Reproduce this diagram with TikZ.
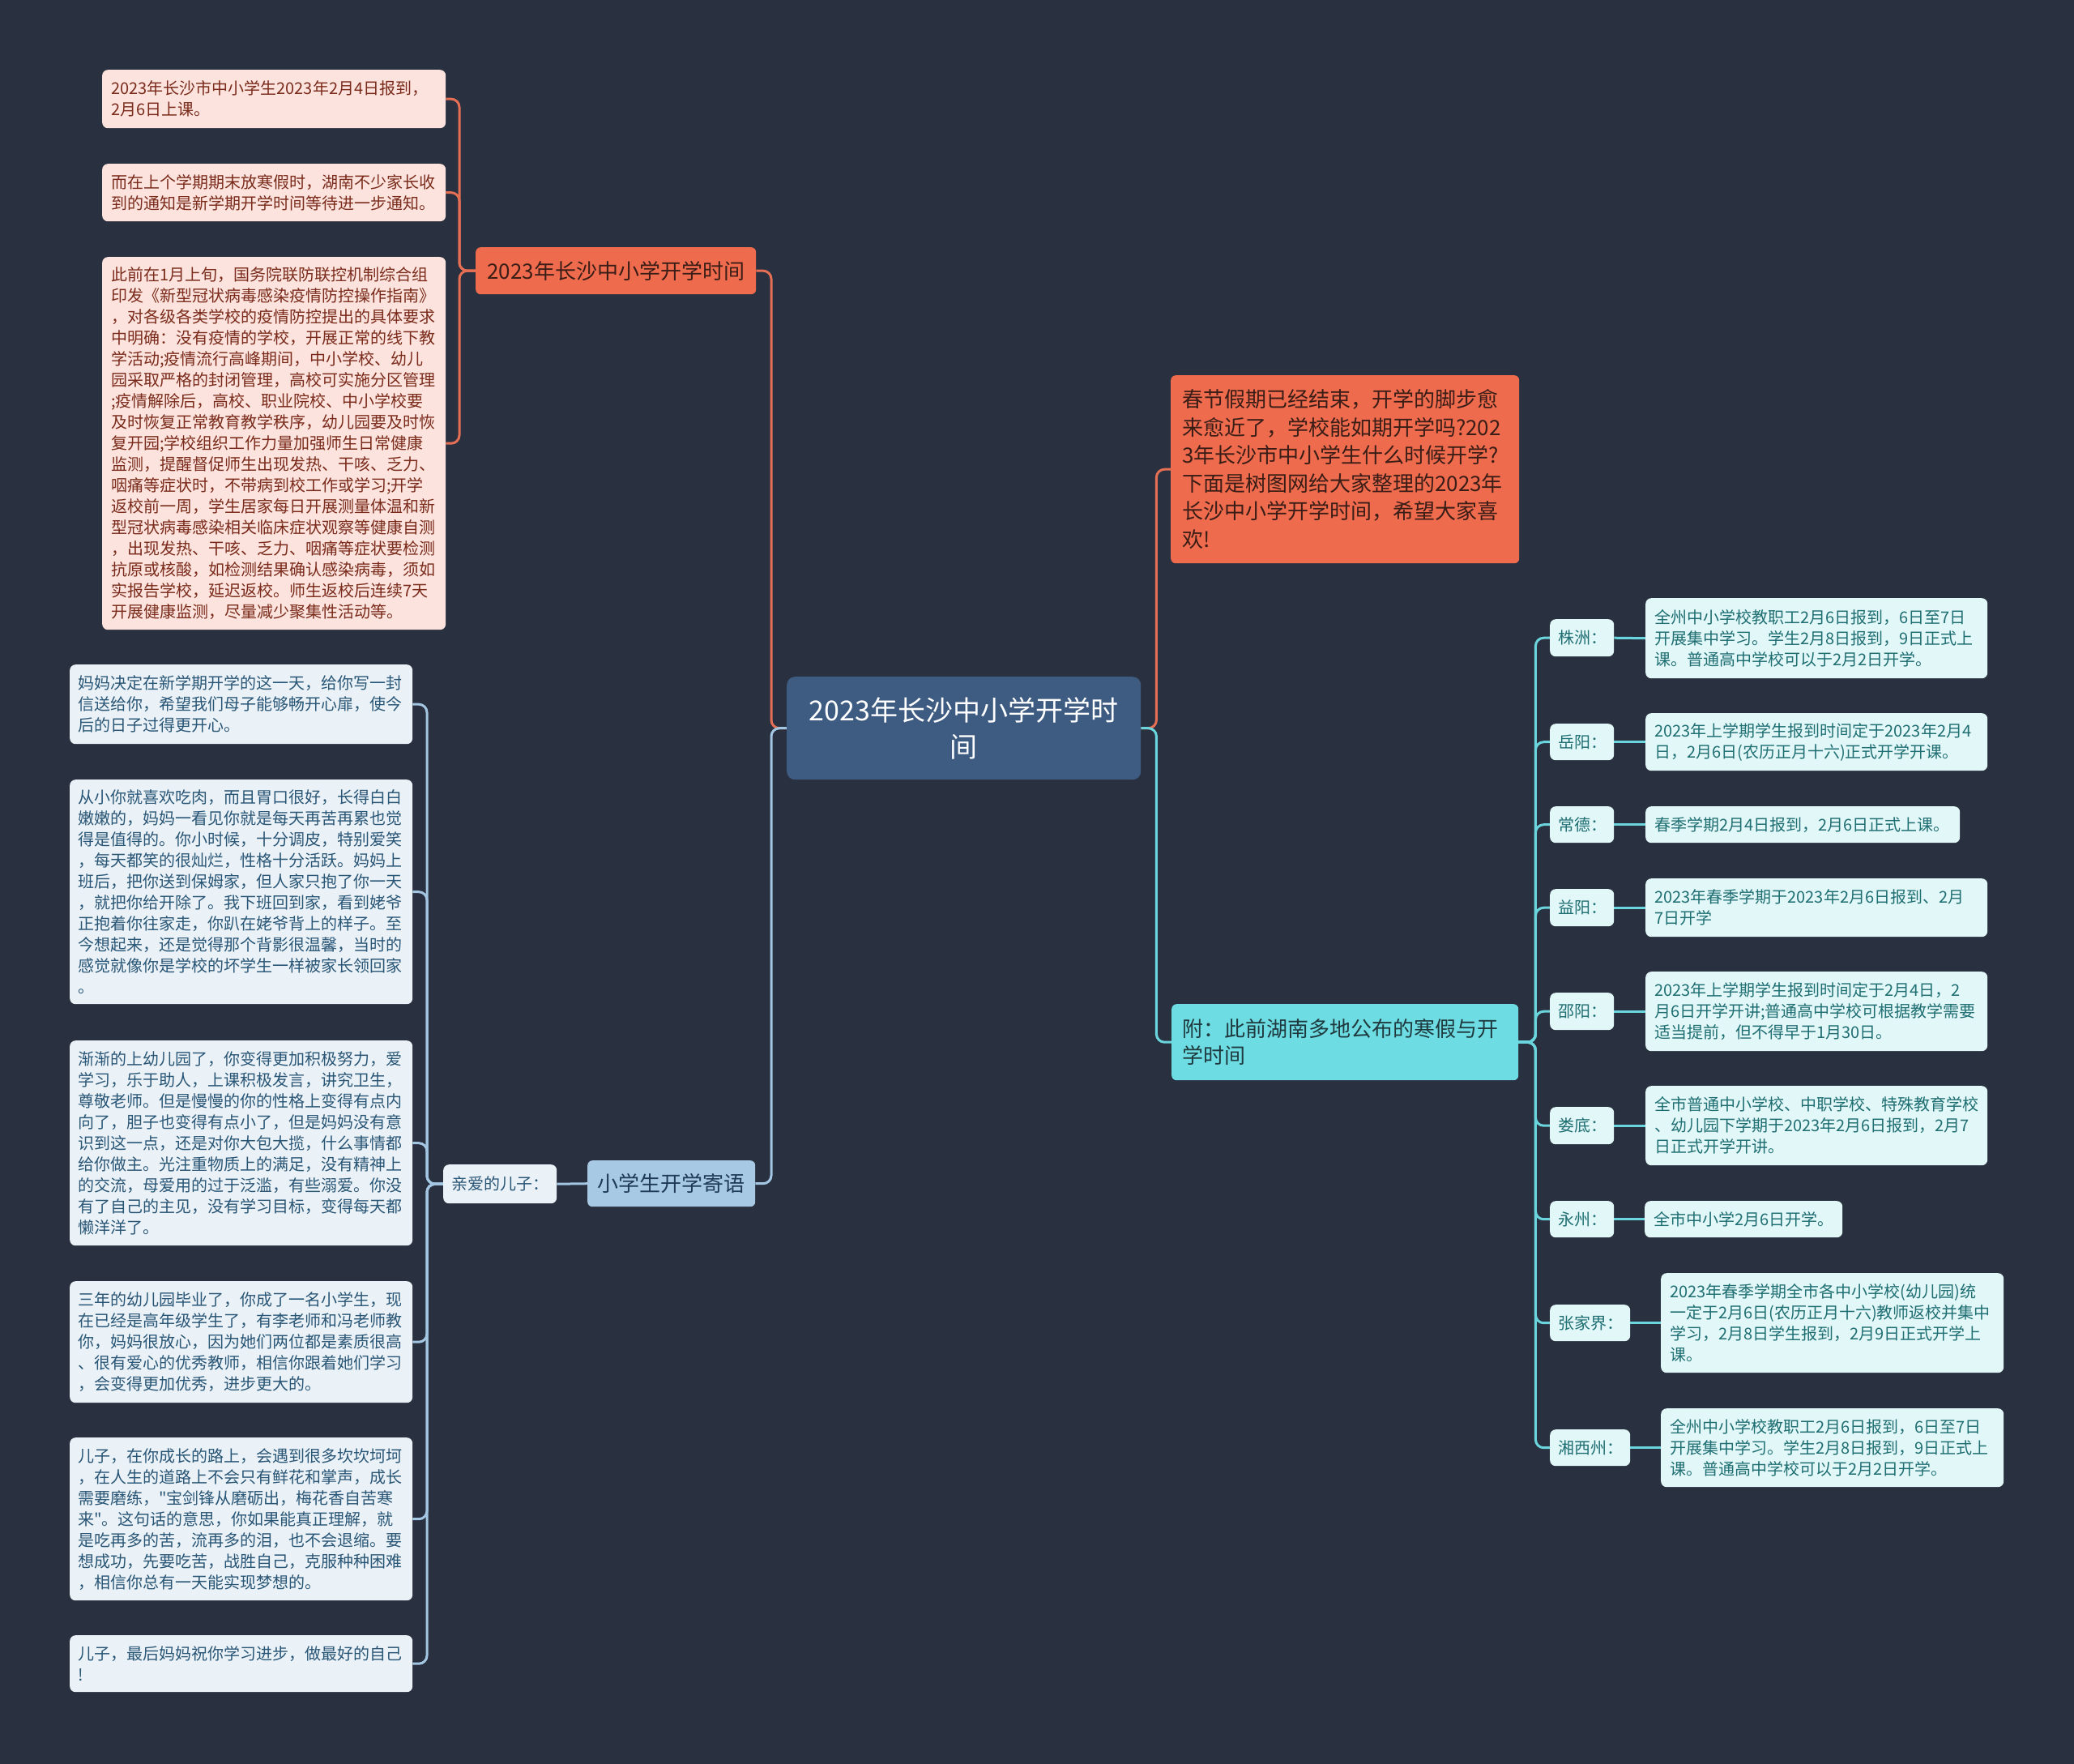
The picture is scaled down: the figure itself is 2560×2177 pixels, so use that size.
\documentclass[tikz,border=0pt]{standalone}
\usepackage{fontspec}
\newfontfamily\cjk{Noto Sans CJK SC}
\usetikzlibrary{calc}
\definecolor{bg}{HTML}{29303F}
\definecolor{rootf}{HTML}{3E5B82}
\definecolor{orf}{HTML}{EE6B4D}
\definecolor{ortxt}{HTML}{3A1D16}
\definecolor{olf}{HTML}{FCE3DD}
\definecolor{oltxt}{HTML}{7A2B1B}
\definecolor{orl}{HTML}{E56F55}
\definecolor{bbf}{HTML}{A8C9E4}
\definecolor{bbtxt}{HTML}{1E3A56}
\definecolor{blf}{HTML}{EAF2F8}
\definecolor{bltxt}{HTML}{2A5676}
\definecolor{bll}{HTML}{A3C6E2}
\definecolor{cyf}{HTML}{6EDDE3}
\definecolor{cytxt}{HTML}{1F3A3F}
\definecolor{ctf}{HTML}{E2F7F8}
\definecolor{cttxt}{HTML}{1E6E72}
\definecolor{cyl}{HTML}{6AD5DD}
\pgfdeclarelayer{back}
\pgfdeclarelayer{conn}
\pgfsetlayers{back,conn,main}
\newcommand\bx[8]{%
  \pgfmathsetmacro\bxw{#4-#2}%
  \pgfmathsetmacro\bxh{#5-#3}%
  \pgfmathsetmacro\bxtw{#4-#2-2*#6}%
  \node[#7, anchor=north west, inner xsep=#6pt, inner ysep=0pt,
        minimum width=\bxw pt, minimum height=\bxh pt, text width=\bxtw pt] (#1) at (#2,#3) {#8};}
\tikzset{
  small/.style={font={\cjk\fontsize{20}{26}\selectfont}, align=left, rounded corners=7pt},
  rootn/.style={fill=rootf, text=white, font={\cjk\fontsize{34}{45}\selectfont}, align=center, rounded corners=10pt},
  obr/.style={fill=orf, text=ortxt, font={\cjk\fontsize{26}{34}\selectfont}, align=center, rounded corners=6pt},
  intro/.style={fill=orf, text=ortxt, font={\cjk\fontsize{26}{34.5}\selectfont}, align=left, rounded corners=6pt},
  oleaf/.style={small, fill=olf, text=oltxt},
  bbr/.style={fill=bbf, text=bbtxt, font={\cjk\fontsize{26}{34}\selectfont}, align=center, rounded corners=6pt},
  bleaf/.style={small, fill=blf, text=bltxt},
  fun/.style={fill=cyf, text=cytxt, font={\cjk\fontsize{26}{33}\selectfont}, align=left, rounded corners=6pt},
  city/.style={small, fill=ctf, text=cttxt},
  conn/.style={line width=3pt, rounded corners=10pt},
  oc/.style={conn, draw=orl},
  bc/.style={conn, draw=bll},
  cc/.style={conn, draw=cyl},
}
\begin{document}
\begin{tikzpicture}[x=1pt, y=-1pt]
\begin{pgfonlayer}{back}
\fill[bg] (0,0) rectangle (2560,2177);
\end{pgfonlayer}
\useasboundingbox (0,0) rectangle (2560,2177);

% root
\bx{root}{971}{835}{1408}{962}{10}{rootn}{2023年长沙中小学开学时\\间}

% orange branch
\bx{obr}{587}{305}{933}{363}{8}{obr}{2023年长沙中小学开学时间}
\bx{ol1}{126}{86}{550}{158}{11}{oleaf}{2023年长沙市中小学生2023年2月4日报到，\\2月6日上课。}
\bx{ol2}{126}{202}{550}{273}{11}{oleaf}{而在上个学期期末放寒假时，湖南不少家长收\\到的通知是新学期开学时间等待进一步通知。}
\bx{ol3}{126}{317}{550}{777}{11}{oleaf}{此前在1月上旬，国务院联防联控机制综合组\\
印发《新型冠状病毒感染疫情防控操作指南》\\
，对各级各类学校的疫情防控提出的具体要求\\
中明确：没有疫情的学校，开展正常的线下教\\
学活动;疫情流行高峰期间，中小学校、幼儿\\
园采取严格的封闭管理，高校可实施分区管理\\
;疫情解除后，高校、职业院校、中小学校要\\
及时恢复正常教育教学秩序，幼儿园要及时恢\\
复开园;学校组织工作力量加强师生日常健康\\
监测，提醒督促师生出现发热、干咳、乏力、\\
咽痛等症状时，不带病到校工作或学习;开学\\
返校前一周，学生居家每日开展测量体温和新\\
型冠状病毒感染相关临床症状观察等健康自测\\
，出现发热、干咳、乏力、咽痛等症状要检测\\
抗原或核酸，如检测结果确认感染病毒，须如\\
实报告学校，延迟返校。师生返校后连续7天\\
开展健康监测，尽量减少聚集性活动等。}

% blue branch
\bx{xsy}{725}{1432}{932}{1489}{8}{bbr}{小学生开学寄语}
\bx{qin}{547}{1437}{687}{1485}{10}{bleaf}{亲爱的儿子：}
\bx{bA}{86}{820}{509}{918}{10}{bleaf}{妈妈决定在新学期开学的这一天，给你写一封\\
信送给你，希望我们母子能够畅开心扉，使今\\
后的日子过得更开心。}
\bx{bB}{86}{962}{509}{1239}{10}{bleaf}{从小你就喜欢吃肉，而且胃口很好，长得白白\\
嫩嫩的，妈妈一看见你就是每天再苦再累也觉\\
得是值得的。你小时候，十分调皮，特别爱笑\\
，每天都笑的很灿烂，性格十分活跃。妈妈上\\
班后，把你送到保姆家，但人家只抱了你一天\\
，就把你给开除了。我下班回到家，看到姥爷\\
正抱着你往家走，你趴在姥爷背上的样子。至\\
今想起来，还是觉得那个背影很温馨，当时的\\
感觉就像你是学校的坏学生一样被家长领回家\\
。}
\bx{bC}{86}{1284}{509}{1537}{10}{bleaf}{渐渐的上幼儿园了，你变得更加积极努力，爱\\
学习，乐于助人，上课积极发言，讲究卫生，\\
尊敬老师。但是慢慢的你的性格上变得有点内\\
向了，胆子也变得有点小了，但是妈妈没有意\\
识到这一点，还是对你大包大揽，什么事情都\\
给你做主。光注重物质上的满足，没有精神上\\
的交流，母爱用的过于泛滥，有些溺爱。你没\\
有了自己的主见，没有学习目标，变得每天都\\
懒洋洋了。}
\bx{bD}{86}{1581}{509}{1731}{10}{bleaf}{三年的幼儿园毕业了，你成了一名小学生，现\\
在已经是高年级学生了，有李老师和冯老师教\\
你，妈妈很放心，因为她们两位都是素质很高\\
、很有爱心的优秀教师，相信你跟着她们学习\\
，会变得更加优秀，进步更大的。}
\bx{bE}{86}{1774}{509}{1975}{10}{bleaf}{儿子，在你成长的路上，会遇到很多坎坎坷坷\\
，在人生的道路上不会只有鲜花和掌声，成长\\
需要磨练，"宝剑锋从磨砺出，梅花香自苦寒\\
来"。这句话的意思，你如果能真正理解，就\\
是吃再多的苦，流再多的泪，也不会退缩。要\\
想成功，先要吃苦，战胜自己，克服种种困难\\
，相信你总有一天能实现梦想的。}
\bx{bF}{86}{2018}{509}{2088}{10}{bleaf}{儿子，最后妈妈祝你学习进步，做最好的自己\\
!}

% right side
\bx{intro}{1445}{463}{1875}{695}{14}{intro}{春节假期已经结束，开学的脚步愈\\
来愈近了，学校能如期开学吗?202\\
3年长沙市中小学生什么时候开学?\\
下面是树图网给大家整理的2023年\\
长沙中小学开学时间，希望大家喜\\
欢!}
\bx{fu}{1446}{1239}{1874}{1333}{13}{fun}{附：此前湖南多地公布的寒假与开\\学时间}

\bx{c1}{1913}{764}{1992}{810}{10}{city}{株洲：}
\bx{d1}{2031}{738}{2453}{837}{11}{city}{全州中小学校教职工2月6日报到，6日至7日\\开展集中学习。学生2月8日报到，9日正式上\\课。普通高中学校可以于2月2日开学。}
\bx{c2}{1913}{893}{1992}{938}{10}{city}{岳阳：}
\bx{d2}{2031}{880}{2453}{951}{11}{city}{2023年上学期学生报到时间定于2023年2月4\\日，2月6日(农历正月十六)正式开学开课。}
\bx{c3}{1913}{995}{1992}{1040}{10}{city}{常德：}
\bx{d3}{2031}{995}{2419}{1040}{11}{city}{春季学期2月4日报到，2月6日正式上课。}
\bx{c4}{1913}{1097}{1992}{1143}{10}{city}{益阳：}
\bx{d4}{2031}{1084}{2453}{1156}{11}{city}{2023年春季学期于2023年2月6日报到、2月\\7日开学}
\bx{c5}{1913}{1225}{1992}{1271}{10}{city}{邵阳：}
\bx{d5}{2031}{1199}{2453}{1297}{11}{city}{2023年上学期学生报到时间定于2月4日，2\\月6日开学开讲;普通高中学校可根据教学需要\\适当提前，但不得早于1月30日。}
\bx{c6}{1913}{1366}{1992}{1412}{10}{city}{娄底：}
\bx{d6}{2031}{1340}{2453}{1438}{11}{city}{全市普通中小学校、中职学校、特殊教育学校\\、幼儿园下学期于2023年2月6日报到，2月7\\日正式开学开讲。}
\bx{c7}{1913}{1482}{1992}{1527}{10}{city}{永州：}
\bx{d7}{2030}{1482}{2274}{1527}{11}{city}{全市中小学2月6日开学。}
\bx{c8}{1913}{1610}{2012}{1655}{10}{city}{张家界：}
\bx{d8}{2050}{1571}{2473}{1694}{11}{city}{2023年春季学期全市各中小学校(幼儿园)统\\一定于2月6日(农历正月十六)教师返校并集中\\学习，2月8日学生报到，2月9日正式开学上\\课。}
\bx{c9}{1913}{1764}{2012}{1809}{10}{city}{湘西州：}
\bx{d9}{2050}{1738}{2473}{1835}{11}{city}{全州中小学校教职工2月6日报到，6日至7日\\开展集中学习。学生2月8日报到，9日正式上\\课。普通高中学校可以于2月2日开学。}

\begin{pgfonlayer}{conn}
\draw[oc] (root.west) -- ++(-19,0) |- (obr.east);
\foreach \n in {ol1,ol2,ol3} \draw[oc] (obr.west) -- ++(-20,0) |- (\n.east);
\draw[bc] (root.west) -- ++(-19,0) |- (xsy.east);
\draw[bc] (xsy.west) -- (qin.east);
\foreach \n in {bA,bB,bC,bD,bE,bF} \draw[bc] (qin.west) -- ++(-20,0) |- (\n.east);
\draw[oc] (root.east) -- ++(19,0) |- (intro.west);
\draw[cc] (root.east) -- ++(19,0) |- (fu.west);
\foreach \i in {1,...,9} {
  \draw[cc] (fu.east) -- ++(21,0) |- (c\i.west);
  \draw[cc] (c\i.east) -- (d\i.west);
}
\end{pgfonlayer}
\end{tikzpicture}
\end{document}
